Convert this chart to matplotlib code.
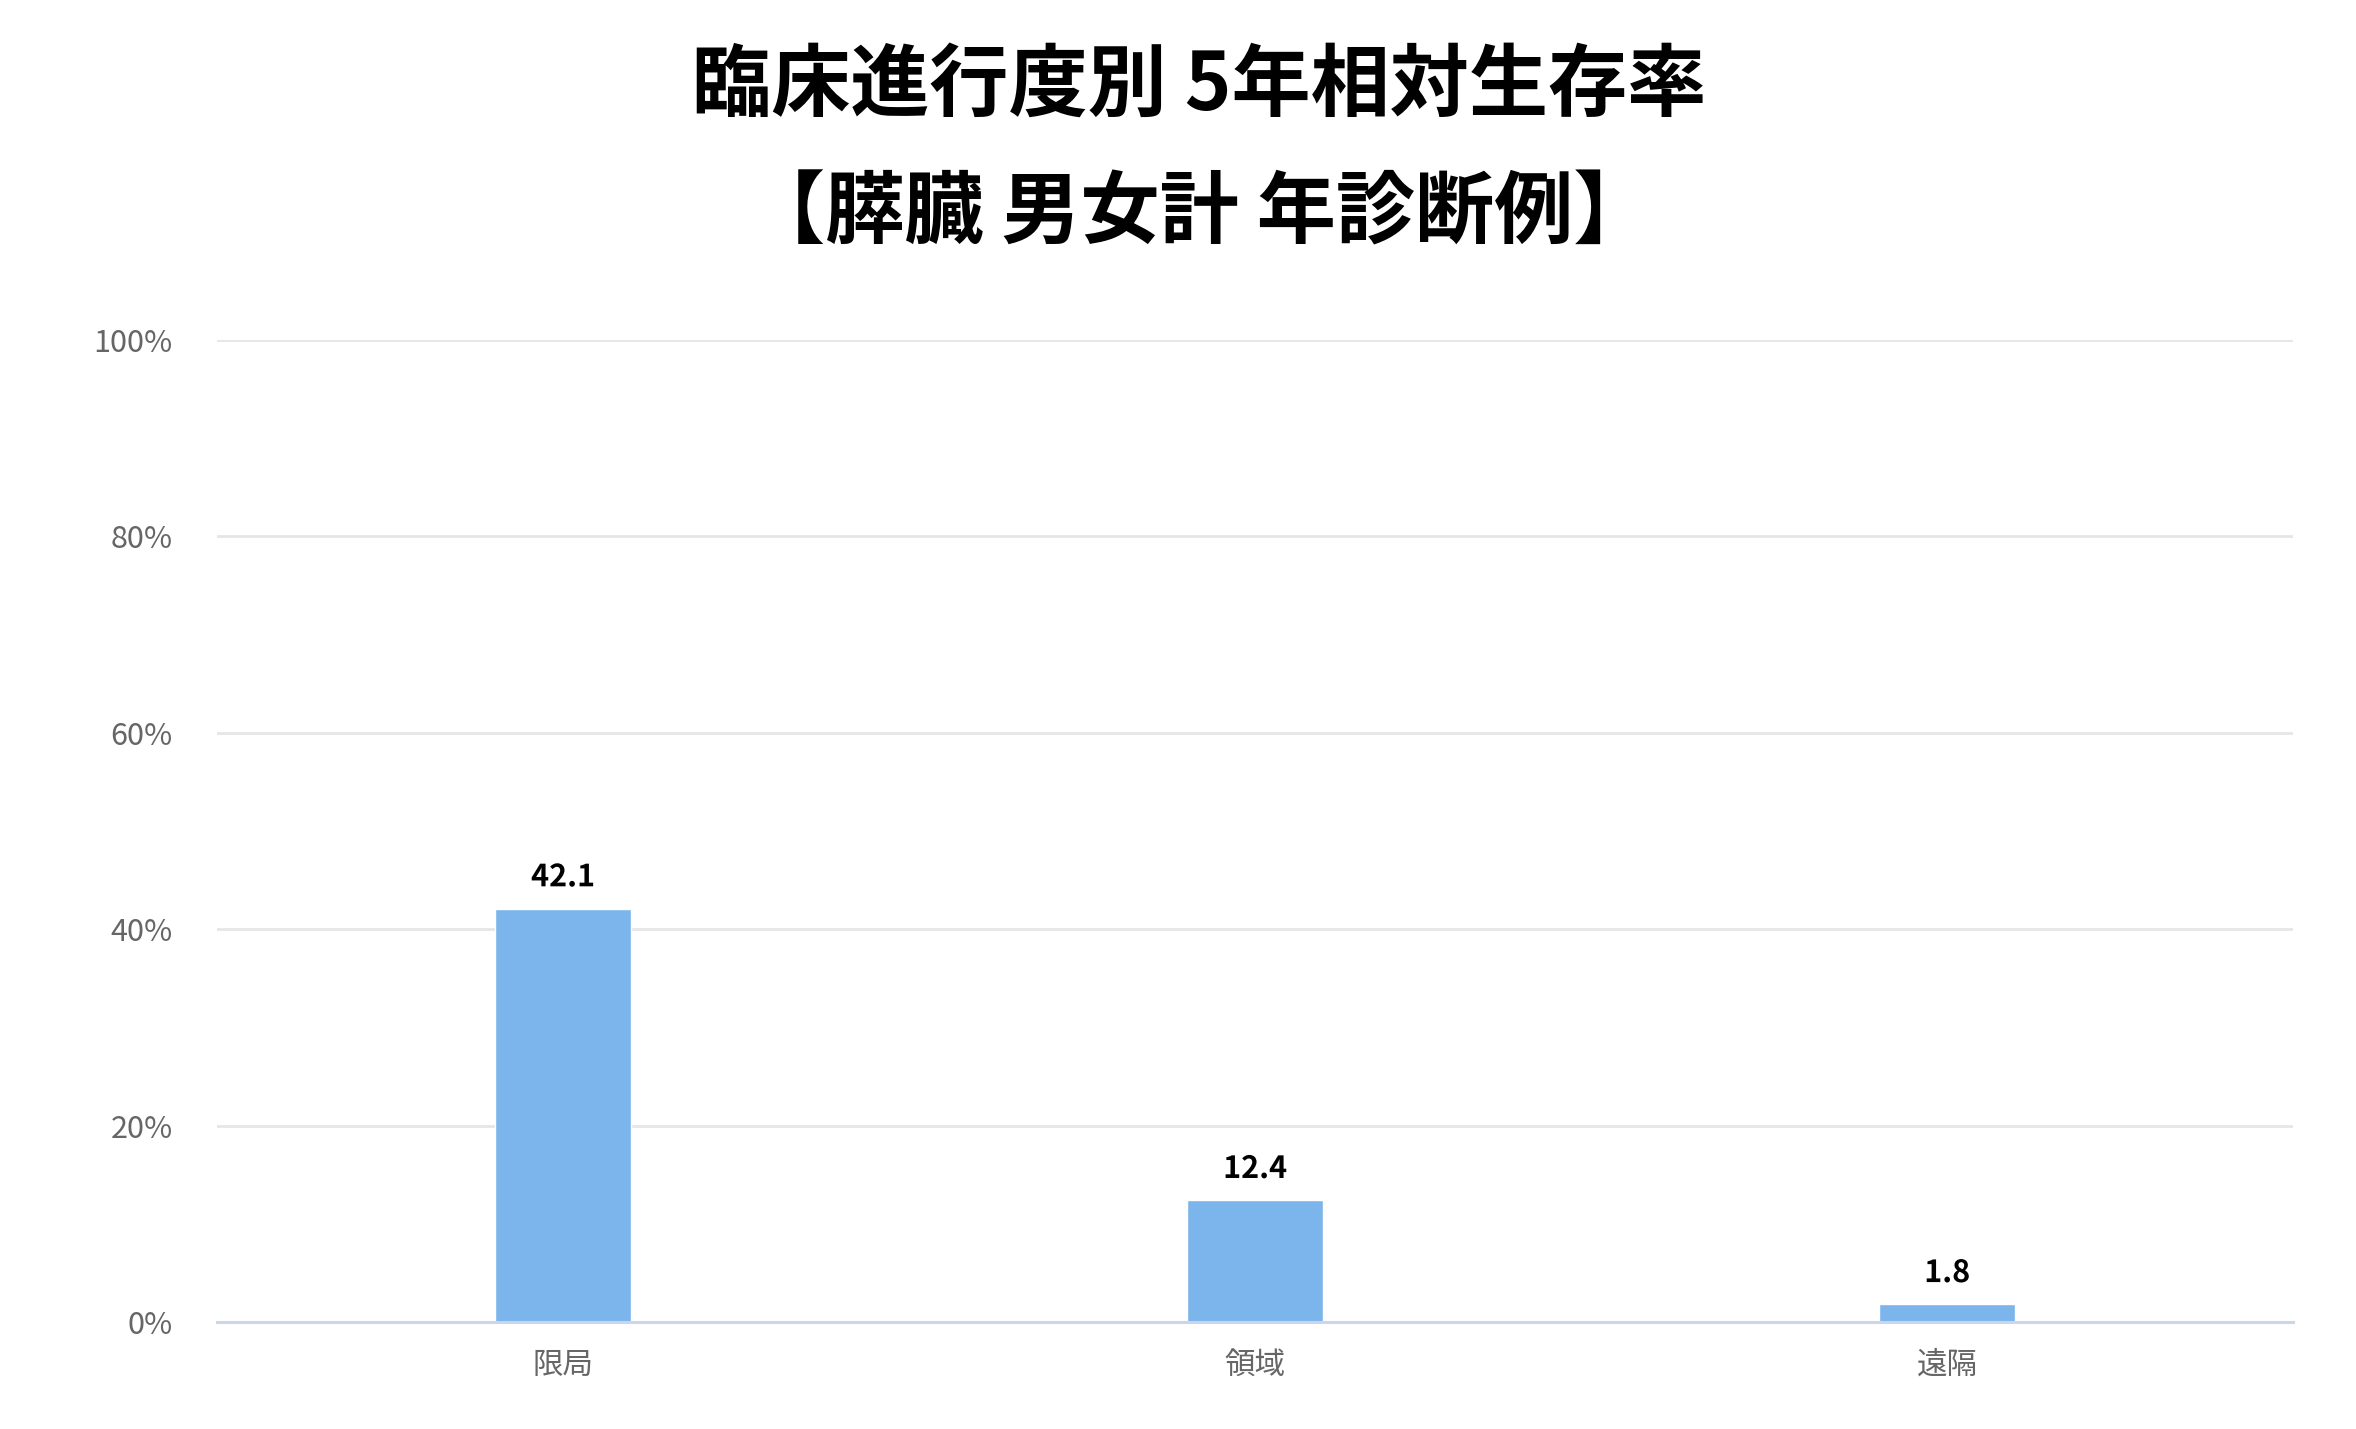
import matplotlib
matplotlib.use("Agg")
import matplotlib.pyplot as plt
import matplotlib.patheffects as pe

plt.rcParams['font.family'] = ['Noto Sans CJK JP', 'DejaVu Sans']

# data
stages = ['限局', '領域', '遠隔']
survival = [42.1, 12.4, 1.8]
y_ticks = [0, 20, 40, 60, 80, 100]
y_tick_labels = [f'{t}%' for t in y_ticks]
title_lines = ['臨床進行度別 5年相対生存率', '【膵臓 男女計 年診断例】']

fig = plt.figure(figsize=(23.56, 14.29), dpi=100)
ax = fig.add_axes([0.0921, 0.0749, 0.9733 - 0.0921, 0.7621 - 0.0749])

x = range(len(stages))
ax.bar(x, survival, width=0.197, color='#7cb5ec', edgecolor='white', linewidth=1, zorder=3)

ax.set_xlim(-0.5, len(stages) - 0.5)
ax.set_ylim(0, 100)
ax.set_yticks(y_ticks)
ax.set_yticklabels(y_tick_labels)
ax.set_xticks(list(x))
ax.set_xticklabels(stages)

ax.yaxis.grid(True, color='#e6e6e6', linewidth=2, zorder=0)
ax.set_axisbelow(True)
for side in ['top', 'right', 'left']:
    ax.spines[side].set_visible(False)
ax.spines['bottom'].set_color('#ccd6eb')
ax.spines['bottom'].set_linewidth(2.2)
ax.spines['bottom'].set_zorder(4)

ax.tick_params(axis='y', length=0, pad=32, labelsize=22, labelcolor='#666666')
ax.tick_params(axis='x', length=0, pad=20, labelsize=22, labelcolor='#666666')

# value labels
for xi, v in zip(x, survival):
    ax.annotate(f'{v}', (xi, v), xytext=(0, 16), textcoords='offset points',
                ha='center', va='baseline', fontsize=22, fontweight='bold', color='black',
                path_effects=[pe.withStroke(linewidth=2, foreground='white')], zorder=5)

# title
fig.text(0.509, 1 - 86 / 1429, title_lines[0], ha='center', va='center',
         fontsize=57, fontweight='bold', color='black')
fig.text(0.509, 1 - 214 / 1429, title_lines[1], ha='center', va='center',
         fontsize=57, fontweight='bold', color='black')

fig.savefig('out.png', dpi=100, facecolor='white')
